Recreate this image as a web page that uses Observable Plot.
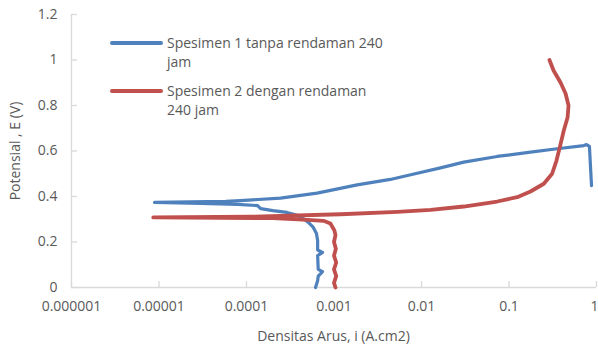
<!DOCTYPE html>
<html>
<head>
<meta charset="utf-8">
<script src="https://cdn.jsdelivr.net/npm/d3@7"></script>
<script src="https://cdn.jsdelivr.net/npm/@observablehq/plot@0.6"></script>
<style>
  html, body { margin: 0; padding: 0; background: #fff; }
  #wrap { position: relative; width: 598px; height: 351px; font-family: "Open Sans", sans-serif; color: #595959; }
  #wrap svg { position: absolute; left: 0; top: 0; overflow: visible; }
  .lg { position: absolute; font-size: 14px; line-height: 19px; color: #595959; white-space: nowrap; }
  .sw { position: absolute; height: 4px; border-radius: 2px; }
  .ttl { position: absolute; font-size: 14px; color: #595959; white-space: nowrap; }
</style>
</head>
<body>
<div id="wrap"></div>
<script>
// Series 1: Spesimen 1 tanpa rendaman 240 jam  [i (A.cm2), E (V)]
const spesimen1 = [
  [6.15e-4, 0.0], [6.5e-4, 0.03], [6.6e-4, 0.05], [7.4e-4, 0.07], [6.6e-4, 0.08],
  [6.5e-4, 0.14], [7.4e-4, 0.154], [6.5e-4, 0.165], [6.5e-4, 0.207], [6.3e-4, 0.237],
  [5.8e-4, 0.264], [5.1e-4, 0.286], [4.5e-4, 0.302], [3.8e-4, 0.317], [2.9e-4, 0.330],
  [2.0e-4, 0.338], [1.45e-4, 0.347], [1.34e-4, 0.360], [7.9e-5, 0.365], [3.0e-5, 0.370],
  [8.9e-6, 0.374],
  [5.8e-5, 0.379], [8.5e-5, 0.382], [2.45e-4, 0.393], [6.4e-4, 0.415], [1.84e-3, 0.451],
  [4.4e-3, 0.475], [8.2e-3, 0.499], [0.0165, 0.526], [0.0304, 0.551],
  [0.0732, 0.576], [0.176, 0.595], [0.356, 0.610], [0.716, 0.624], [0.77, 0.628],
  [0.83, 0.62], [0.877, 0.448]
];
// Series 2: Spesimen 2 dengan rendaman 240 jam  [i (A.cm2), E (V)]
const spesimen2 = [
  [1.04e-3, 0.0], [1.0e-3, 0.02], [1.06e-3, 0.05], [1.0e-3, 0.08], [1.06e-3, 0.11],
  [1.0e-3, 0.14], [1.05e-3, 0.17], [1.0e-3, 0.2], [1.04e-3, 0.23], [1.01e-3, 0.251],
  [9.1e-4, 0.281], [7.6e-4, 0.293], [5.0e-4, 0.297], [2.0e-4, 0.305], [8.6e-6, 0.308],
  [1.1e-4, 0.311], [1.19e-3, 0.322], [5.3e-3, 0.332], [0.0127, 0.341], [0.0304, 0.356],
  [0.0732, 0.378], [0.124, 0.397], [0.176, 0.422], [0.25, 0.456], [0.311, 0.500],
  [0.349, 0.558], [0.381, 0.617], [0.423, 0.690], [0.467, 0.747], [0.479, 0.80],
  [0.443, 0.853], [0.388, 0.901], [0.323, 0.954], [0.29, 1.0]
];
const seriesNames = ["Spesimen 1 tanpa rendaman 240 jam", "Spesimen 2 dengan rendaman 240 jam"];
const seriesColors = ["#4f81bd", "#c0504d"];
const xTicks = [1e-6, 1e-5, 1e-4, 1e-3, 1e-2, 1e-1, 1];
const xTickLabels = ["0.000001", "0.00001", "0.0001", "0.001", "0.01", "0.1", "1"];
const yTicks = [0, 0.2, 0.4, 0.6, 0.8, 1.0, 1.2];
const yTickLabels = ["0", "0.2", "0.4", "0.6", "0.8", "1", "1.2"];
const xTitle = "Densitas Arus, i (A.cm2)";
const yTitle = "Potensial , E (V)";

const W = 598, H = 351, mL = 71, mR = 2, mT = 14, mB = 64;
const axisColor = "#d9d9d9";
const fmtX = d => xTickLabels[xTicks.indexOf(d)];

const chart = Plot.plot({
  width: W, height: H,
  marginLeft: mL, marginRight: mR, marginTop: mT, marginBottom: mB,
  style: { fontFamily: "Open Sans, sans-serif", fontSize: "14px", color: "#595959", background: "white", overflow: "visible" },
  x: { type: "log", domain: [xTicks[0], xTicks[xTicks.length - 1]], axis: null },
  y: { domain: [yTicks[0], yTicks[yTicks.length - 1]], axis: null },
  marks: [
    Plot.ruleY([yTicks[0]], { stroke: axisColor, strokeWidth: 1.3 }),
    Plot.ruleX([xTicks[0]], { stroke: axisColor, strokeWidth: 1.3 }),
    Plot.tickX(xTicks, { x: d => d, stroke: axisColor, strokeWidth: 1.3, insetTop: H - mT - mB - 6 }),
    Plot.tickY(yTicks, { y: d => d, stroke: axisColor, strokeWidth: 1.3, insetRight: W - mL - mR - 6 }),
    Plot.axisX({ ticks: xTicks.slice(0, -1), tickFormat: fmtX, tickSize: 0, tickPadding: 14, label: null, fill: "#595959" }),
    Plot.axisX({ ticks: xTicks.slice(-1), tickFormat: fmtX, tickSize: 0, tickPadding: 14, label: null, fill: "#595959", dx: -2 }),
    Plot.axisY({ ticks: yTicks, tickFormat: d => yTickLabels[yTicks.indexOf(d)], tickSize: 0, tickPadding: 14, label: null, fill: "#595959" }),
    Plot.line(spesimen1, { x: d => d[0], y: d => d[1], stroke: seriesColors[0], strokeWidth: 3.2, curve: "linear", strokeLinejoin: "round", strokeLinecap: "round" }),
    Plot.line(spesimen2, { x: d => d[0], y: d => d[1], stroke: seriesColors[1], strokeWidth: 3.8, curve: "linear", strokeLinejoin: "round", strokeLinecap: "round" })
  ]
});

const wrap = document.getElementById("wrap");
wrap.appendChild(chart);

// Legend
const legendLines = [
  ["Spesimen 1 tanpa rendaman 240", "jam"],
  ["Spesimen 2 dengan rendaman", "240 jam"]
];
const legendTop = [33, 81];
legendLines.forEach((lines, k) => {
  const sw = document.createElement("div");
  sw.className = "sw";
  sw.style.left = "110px"; sw.style.width = "53px";
  sw.style.top = (legendTop[k] + 8) + "px";
  sw.style.background = seriesColors[k];
  wrap.appendChild(sw);
  const t = document.createElement("div");
  t.className = "lg";
  t.style.left = "167px"; t.style.top = legendTop[k] + "px";
  t.innerHTML = lines.join("<br>");
  wrap.appendChild(t);
});

// Axis titles
const xt = document.createElement("div");
xt.className = "ttl"; xt.textContent = xTitle;
xt.style.left = ((mL + W - mR) / 2) + "px"; xt.style.top = "335px";
xt.style.transform = "translate(-50%, -50%)";
wrap.appendChild(xt);
const yt = document.createElement("div");
yt.className = "ttl"; yt.textContent = yTitle;
yt.style.left = "14px"; yt.style.top = ((mT + H - mB) / 2) + "px";
yt.style.transform = "translate(-50%, -50%) rotate(-90deg)";
wrap.appendChild(yt);
</script>
</body>
</html>
